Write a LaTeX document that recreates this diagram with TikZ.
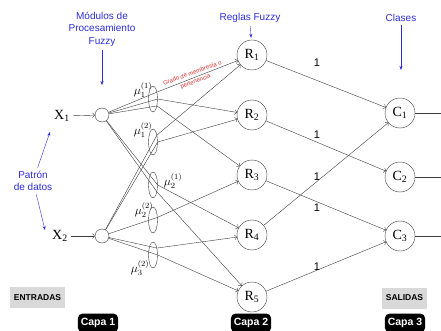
\documentclass[tikz,border=0pt]{standalone}
\usepackage{fontspec}
\setmainfont{Liberation Serif}
\setsansfont{Liberation Sans}
\usetikzlibrary{shapes.geometric,arrows.meta}

\definecolor{azul}{RGB}{45,45,215}
\definecolor{rojo}{RGB}{225,45,45}
\definecolor{gris}{RGB}{217,217,217}
\definecolor{linea}{RGB}{60,60,60}

\tikzset{
  neurona/.style={circle,draw=linea,minimum size=30pt,inner sep=0pt,font=\fontsize{14}{14}\selectfont},
  modulo/.style={circle,draw=linea,minimum size=14pt,inner sep=0pt},
  funcion/.style={ellipse,draw=linea,minimum width=9pt,minimum height=26pt,inner sep=0pt},
  entrada/.style={font=\fontsize{14}{14}\selectfont},
  mu/.style={font=\fontsize{12}{12}\selectfont,inner sep=1pt},
  conexion/.style={draw=linea,->},
  etiqueta/.style={text=azul,font=\sffamily\fontsize{10}{12.5}\selectfont,align=center},
  flecha/.style={draw=azul,-{Stealth[length=4pt,width=3pt]}},
  peso/.style={font=\sffamily\fontsize{11}{11}\selectfont,inner sep=0pt},
  grado/.style={text=rojo,font=\sffamily\fontsize{6}{9}\selectfont,align=center,rotate=20,inner sep=0pt},
  caja/.style={fill=gris,font=\sffamily\bfseries\fontsize{8.5}{10}\selectfont,minimum height=21pt,inner sep=2pt},
  capa/.style={fill=black,text=white,rounded corners=5pt,font=\sffamily\bfseries\fontsize{10.5}{12}\selectfont,minimum height=19pt,inner sep=3pt}
}

\begin{document}
\begin{tikzpicture}[x=1pt,y=-1pt]
\useasboundingbox (0,0) rectangle (441,331);

% cabeceras
\node [etiqueta] (modulos) at (102,29) {Módulos de\\Procesamiento\\Fuzzy};
\node [etiqueta] (reglas) at (250,18) {Reglas Fuzzy};
\node [etiqueta] (clases) at (401,18) {Clases};
\node [etiqueta] (patron) at (33,181) {Patrón\\de datos};

% capa 1
\node [entrada] (x1) at (62,116) {X\textsubscript{1}};
\node [entrada] (x2) at (60,236) {X\textsubscript{2}};
\node [modulo] (m1) at (102,115) {};
\node [modulo] (m2) at (102,236) {};
\node [funcion] (e11) at (153,99) {};
\node [funcion] (e12) at (153,142) {};
\node [funcion] (e21) at (153,185) {};
\node [funcion] (e22) at (153,220) {};
\node [funcion] (e32) at (153,255) {};
\node [mu] (u11) at (143,90) {$\mu_1^{(1)}$};
\node [mu] (u12) at (143,130) {$\mu_1^{(2)}$};
\node [mu] (u21) at (173,181) {$\mu_2^{(1)}$};
\node [mu] (u22) at (144,210) {$\mu_2^{(2)}$};
\node [mu] (u32) at (140,268) {$\mu_3^{(2)}$};

% capa 2
\node [neurona] (r1) at (252,55) {R\textsubscript{1}};
\node [neurona] (r2) at (252,115) {R\textsubscript{2}};
\node [neurona] (r3) at (252,175) {R\textsubscript{3}};
\node [neurona] (r4) at (252,235) {R\textsubscript{4}};
\node [neurona] (r5) at (252,297) {R\textsubscript{5}};

% capa 3
\node [neurona] (c1) at (400,113) {C\textsubscript{1}};
\node [neurona] (c2) at (400,177) {C\textsubscript{2}};
\node [neurona] (c3) at (400,236) {C\textsubscript{3}};
\coordinate (s1) at (441,113);
\coordinate (s2) at (441,177);
\coordinate (s3) at (441,236);

\draw [conexion] (x1) -- (m1);
\draw [conexion] (x2) -- (m2);

\draw [conexion] (m1) -- (e11.60) -- (r1);
\draw [conexion] (m1) -- (e11.east) -- (r2);
\draw [conexion] (m1) -- (e11.-60) -- (r3);
\draw [conexion] (m1) -- (e21.east) -- (r4);
\draw [conexion] (m1) -- (e21.-60) -- (r5);
\draw [conexion] (m2) -- (e12.60) -- (r1);
\draw [conexion] (m2) -- (e12.east) -- (r2);
\draw [conexion] (m2) -- (e22.30) -- (r3);
\draw [conexion] (m2) -- (e32.60) -- (r4);
\draw [conexion] (m2) -- (e32.east) -- (r5);
\node [grado] (gp) at (194,77.5) {Grado de membresía o\\pertenencia};

\draw [conexion] (r1) -- (c1);
\draw [conexion] (r2) -- (c2);
\draw [conexion] (r3) -- (c3);
\draw [conexion] (r4) -- (c1);
\draw [conexion] (r5) -- (c3);
\node [peso] (w1) at (317,63) {1};
\node [peso] (w2) at (317,135) {1};
\node [peso] (w4) at (317,177) {1};
\node [peso] (w3) at (317,208) {1};
\node [peso] (w5) at (317,267) {1};

\draw [draw=linea] (c1) -- (s1);
\draw [draw=linea] (c2) -- (s2);
\draw [draw=linea] (c3) -- (s3);

% flechas azules
\coordinate (pm) at (102,85);
\coordinate (pc) at (401,70);
\coordinate (pa) at (50,132);
\coordinate (pb) at (45,230);
\draw [flecha] (modulos) -- (pm);
\draw [flecha,shorten >=2pt] (reglas) -- (r1);
\draw [flecha] (clases) -- (pc);
\draw [flecha] (patron) -- (pa);
\draw [flecha] (patron) -- (pb);

% pie
\node [caja,minimum width=55pt] (entradas) at (37.5,297.5) {ENTRADAS};
\node [caja,minimum width=45pt] (salidas) at (404.5,298) {SALIDAS};
\node [capa] (capa1) at (98,323) {Capa 1};
\node [capa] (capa2) at (251,323) {Capa 2};
\node [capa] (capa3) at (405,323) {Capa 3};
\end{tikzpicture}
\end{document}
